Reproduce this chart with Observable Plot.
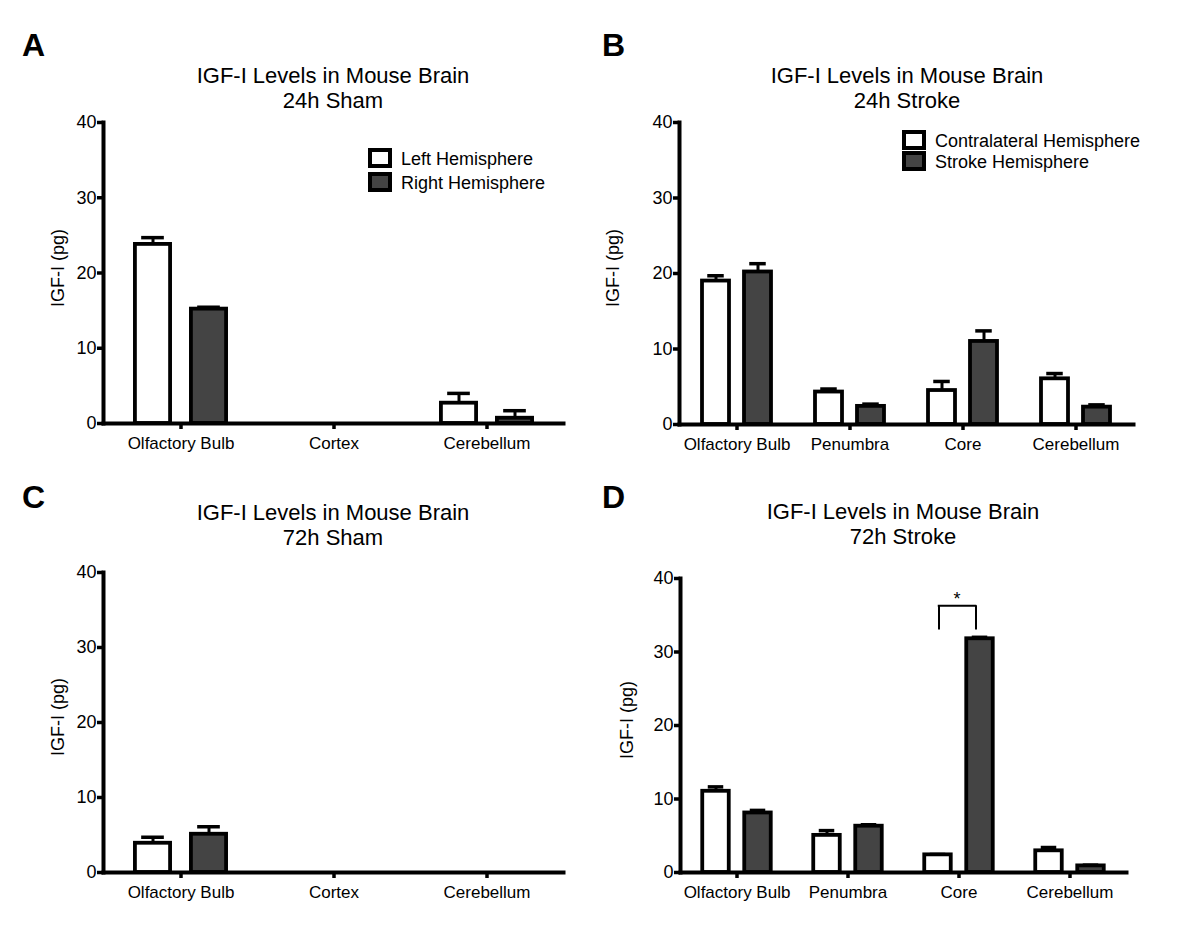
<!DOCTYPE html>
<html>
<head>
<meta charset="utf-8">
<script src="https://cdn.jsdelivr.net/npm/d3@7"></script>
<script src="https://cdn.jsdelivr.net/npm/@observablehq/plot@0.6"></script>
<style>
  body { margin: 0; background: #fff; }
  #page { position: relative; width: 1200px; height: 940px; background: #fff; overflow: hidden;
          font-family: "Liberation Sans", Arial, Helvetica, sans-serif; color: #000; }
  .panel { position: absolute; }
  .letter { position: absolute; font-size: 32px; line-height: 32px; font-weight: bold; }
  .title { position: absolute; width: 400px; text-align: center; font-size: 22px; line-height: 25px; }
  .ylab { position: absolute; width: 200px; height: 20px; line-height: 20px; text-align: center;
          font-size: 18px; transform: rotate(-90deg); white-space: nowrap; }
  .lgbox { position: absolute; box-sizing: border-box; width: 24px; height: 20px; border: 4px solid #000; }
  .lgtxt { position: absolute; font-size: 18px; line-height: 18px; white-space: nowrap; }
</style>
</head>
<body>
<div id="page"></div>
<script>
// ---------------- data ----------------
const yTicks = [0, 10, 20, 30, 40];
const yLabel = "IGF-I (pg)";

const shamRegions = ["Olfactory Bulb", "Cortex", "Cerebellum"];
const strokeRegions = ["Olfactory Bulb", "Penumbra", "Core", "Cerebellum"];

const shamSeries = ["Left Hemisphere", "Right Hemisphere"];
const strokeSeries = ["Contralateral Hemisphere", "Stroke Hemisphere"];
const seriesFills = ["#ffffff", "#444444"];

// A: 24h Sham (mean, SEM)
const sham24Left = [23.8, null, 2.7];
const sham24LeftErr = [0.9, null, 1.3];
const sham24Right = [15.2, null, 0.7];
const sham24RightErr = [0.25, null, 1.0];

// B: 24h Stroke
const stroke24Contra = [19.0, 4.3, 4.5, 6.05];
const stroke24ContraErr = [0.7, 0.4, 1.2, 0.7];
const stroke24Stroke = [20.2, 2.4, 11.0, 2.3];
const stroke24StrokeErr = [1.1, 0.3, 1.4, 0.3];

// C: 72h Sham
const sham72Left = [3.9, null, null];
const sham72LeftErr = [0.8, null, null];
const sham72Right = [5.1, null, null];
const sham72RightErr = [1.0, null, null];

// D: 72h Stroke
const stroke72Contra = [11.05, 5.05, 2.4, 2.95];
const stroke72ContraErr = [0.6, 0.65, 0.05, 0.45];
const stroke72Stroke = [8.1, 6.3, 31.8, 0.9];
const stroke72StrokeErr = [0.35, 0.2, 0.2, 0.1];

// significance bracket in D
const sigCategory = ["Core"];
const sigBracketY = [33.0, 36.3];
const sigLabel = ["*"];

// ---------------- drawing ----------------
const FONT = '"Liberation Sans", Arial, Helvetica, sans-serif';
const page = document.getElementById("page");

function rowsFor(cats, vals, errs) {
  const rows = [];
  cats.forEach((c, i) => {
    if (vals[i] != null) rows.push({cat: c, v: vals[i], top: vals[i] + (errs[i] || 0)});
  });
  return rows;
}

function panel(cfg) {
  const W = 600, H = 470;
  const bw = (W - cfg.mL - cfg.mR) / cfg.cats.length;
  const marks = [];
  cfg.series.forEach((s, k) => {
    const rows = rowsFor(cfg.cats, s.vals, s.errs);
    const off = cfg.offsets[k];
    marks.push(Plot.ruleX(rows, {x: "cat", y1: "v", y2: "top", dx: off, stroke: "#000", strokeWidth: 3}));
    marks.push(Plot.tickY(rows, {x: "cat", y: "top", dx: off, stroke: "#000", strokeWidth: 3.5,
      insetLeft: bw / 2 - cfg.capW / 2, insetRight: bw / 2 - cfg.capW / 2}));
    marks.push(Plot.barY(rows, {x: "cat", y: "v", fill: seriesFills[k], stroke: "#000", strokeWidth: 3.8,
      insetLeft: bw / 2 + off - cfg.barW / 2, insetRight: bw / 2 - off - cfg.barW / 2}));
  });
  if (cfg.extra) marks.push(...cfg.extra(bw));
  marks.push(
    Plot.axisX({tickSize: 6, tickPadding: 7, fontSize: 17, label: null, strokeWidth: 3.5}),
    Plot.axisY({ticks: yTicks, tickSize: 6, tickPadding: 1, fontSize: 18, strokeWidth: 3.5, label: null}),
    Plot.frame({anchor: "left", stroke: "#000", strokeWidth: 4, strokeLinecap: "square"}),
    Plot.frame({anchor: "bottom", stroke: "#000", strokeWidth: 4, strokeLinecap: "square"})
  );
  const svg = Plot.plot({
    width: W, height: H,
    marginLeft: cfg.mL, marginRight: cfg.mR, marginTop: cfg.mT, marginBottom: cfg.mB,
    x: {domain: cfg.cats, padding: 0, axis: null},
    y: {domain: [0, 40], axis: null},
    style: {fontFamily: FONT, fontSize: "17px", color: "#000", background: "transparent", overflow: "visible"},
    marks
  });
  const div = document.createElement("div");
  div.className = "panel";
  div.style.left = cfg.left + "px";
  div.style.top = cfg.top + "px";
  div.appendChild(svg);
  page.appendChild(div);
  addText("ylab", yLabel, cfg.labelX - 100, cfg.labelY - 10);
}

function addText(cls, text, left, top, extraStyle) {
  const d = document.createElement("div");
  d.className = cls;
  d.innerHTML = text;
  d.style.left = left + "px";
  d.style.top = top + "px";
  if (extraStyle) Object.assign(d.style, extraStyle);
  page.appendChild(d);
}

function legend(names, x, y0, step, textX, textY0) {
  names.forEach((n, k) => {
    addText("lgbox", "", x, y0 + k * step, {background: seriesFills[k]});
    addText("lgtxt", n, textX, textY0 + k * step);
  });
}

// Panel A
panel({left: 0, top: 0, mL: 103, mR: 37, mT: 122, mB: 47, cats: shamRegions,
  series: [{vals: sham24Left, errs: sham24LeftErr}, {vals: sham24Right, errs: sham24RightErr}],
  offsets: [-28, 28], barW: 35.5, capW: 23, labelX: 58, labelY: 268});
// Panel B
panel({left: 600, top: 0, mL: 79, mR: 67, mT: 122, mB: 46, cats: strokeRegions,
  series: [{vals: stroke24Contra, errs: stroke24ContraErr}, {vals: stroke24Stroke, errs: stroke24StrokeErr}],
  offsets: [-21, 21], barW: 27.5, capW: 17, labelX: 613, labelY: 268});
// Panel C
panel({left: 0, top: 470, mL: 103, mR: 37, mT: 102, mB: 68, cats: shamRegions,
  series: [{vals: sham72Left, errs: sham72LeftErr}, {vals: sham72Right, errs: sham72RightErr}],
  offsets: [-28, 28], barW: 35.5, capW: 23, labelX: 58, labelY: 717});
// Panel D
panel({left: 600, top: 470, mL: 80, mR: 74, mT: 108, mB: 68, cats: strokeRegions,
  series: [{vals: stroke72Contra, errs: stroke72ContraErr}, {vals: stroke72Stroke, errs: stroke72StrokeErr}],
  offsets: [-21, 21], barW: 27, capW: 16, labelX: 627, labelY: 720,
  extra: (bw) => [
    Plot.ruleX(sigCategory, {x: d => d, y1: sigBracketY[0], y2: sigBracketY[1], dx: -20, stroke: "#000", strokeWidth: 2}),
    Plot.ruleX(sigCategory, {x: d => d, y1: sigBracketY[0], y2: sigBracketY[1], dx: 17, stroke: "#000", strokeWidth: 2}),
    Plot.tickY(sigCategory, {x: d => d, y: sigBracketY[1], stroke: "#000", strokeWidth: 2,
      insetLeft: bw / 2 - 20 - 1, insetRight: bw / 2 - 17 - 1}),
    Plot.text(sigLabel, {x: () => sigCategory[0], y: sigBracketY[1] + 0.9, text: d => d, dx: -2, fontSize: 18, fill: "#000"})
  ]});

// Titles and panel letters
addText("letter", "A", 22, 29);
addText("letter", "B", 602, 29);
addText("letter", "C", 22, 481);
addText("letter", "D", 602, 481);
addText("title", "IGF-I Levels in Mouse Brain<br>24h Sham", 333 - 200, 63);
addText("title", "IGF-I Levels in Mouse Brain<br>24h Stroke", 907 - 200, 63);
addText("title", "IGF-I Levels in Mouse Brain<br>72h Sham", 333 - 200, 500);
addText("title", "IGF-I Levels in Mouse Brain<br>72h Stroke", 903 - 200, 499);

// Legends
legend(shamSeries, 368, 148, 24, 401, 150);
legend(strokeSeries, 902, 130, 21, 935, 132);
</script>
</body>
</html>
